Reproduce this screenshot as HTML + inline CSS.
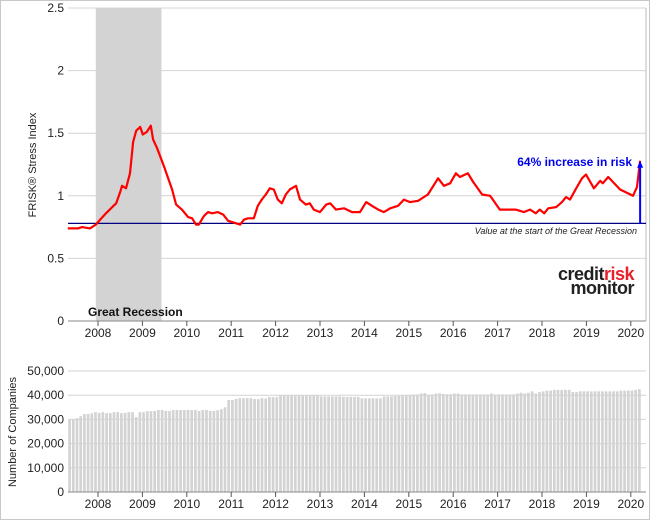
<!DOCTYPE html>
<html><head><meta charset="utf-8"><style>
body{margin:0;background:#fff;}
svg text{font-family:"Liberation Sans",sans-serif;}
</style></head><body>
<svg width="650" height="520" viewBox="0 0 650 520" xmlns="http://www.w3.org/2000/svg">
<rect x="0.5" y="0.5" width="649" height="519" fill="#fff" stroke="#c8c8c8"/>
<g id="topchart"></g>
<g id="bottomchart"></g>
</svg>
<script>
const years=[2008,2009,2010,2011,2012,2013,2014,2015,2016,2017,2018,2019,2020];
const topTicks=[0,0.5,1,1.5,2,2.5];
const topTickLabels=["0","0.5","1","1.5","2","2.5"];
const botTicks=[0,10000,20000,30000,40000,50000];
const botTickLabels=["0","10,000","20,000","30,000","40,000","50,000"];
const riskDates=[2007.32,2007.55,2007.64,2007.82,2007.95,2008.05,2008.18,2008.32,2008.41,2008.50,2008.54,2008.63,2008.72,2008.79,2008.86,2008.95,2009.01,2009.10,2009.19,2009.24,2009.33,2009.49,2009.67,2009.76,2009.89,2010.03,2010.12,2010.21,2010.27,2010.39,2010.48,2010.57,2010.70,2010.82,2010.93,2011.11,2011.20,2011.29,2011.38,2011.51,2011.60,2011.69,2011.78,2011.87,2011.96,2012.05,2012.14,2012.23,2012.32,2012.46,2012.55,2012.68,2012.77,2012.86,2013.00,2013.14,2013.23,2013.36,2013.54,2013.72,2013.90,2014.04,2014.17,2014.31,2014.44,2014.58,2014.76,2014.89,2015.03,2015.21,2015.43,2015.66,2015.79,2015.93,2016.06,2016.15,2016.33,2016.45,2016.65,2016.83,2017.05,2017.19,2017.41,2017.59,2017.73,2017.86,2017.95,2018.05,2018.14,2018.32,2018.45,2018.54,2018.63,2018.77,2018.90,2018.99,2019.17,2019.31,2019.37,2019.49,2019.76,2020.05,2020.14,2020.21];
const riskValues=[0.74,0.74,0.75,0.74,0.77,0.81,0.86,0.91,0.94,1.03,1.08,1.06,1.18,1.43,1.52,1.55,1.49,1.51,1.56,1.45,1.38,1.23,1.05,0.93,0.89,0.83,0.82,0.77,0.77,0.84,0.87,0.86,0.87,0.85,0.80,0.78,0.77,0.81,0.82,0.82,0.92,0.97,1.01,1.06,1.05,0.97,0.94,1.01,1.05,1.08,0.97,0.93,0.94,0.89,0.87,0.93,0.94,0.89,0.90,0.87,0.87,0.95,0.92,0.89,0.87,0.90,0.92,0.97,0.95,0.96,1.01,1.14,1.08,1.10,1.18,1.15,1.18,1.11,1.01,1.00,0.89,0.89,0.89,0.87,0.89,0.86,0.89,0.86,0.90,0.91,0.95,0.99,0.97,1.06,1.14,1.17,1.06,1.12,1.10,1.15,1.05,1.00,1.07,1.28];
const baseline=0.78;
const recession=[2007.95,2009.43];
const companyStart=2007.33;
const companyCounts=[30000,30000,30500,31300,32200,32300,32500,33000,
32700,33000,32600,32600,33000,33000,32600,32700,33000,33000,31000,33000,
33000,33400,33400,33500,33900,33900,33500,33500,33900,33900,33900,33900,
33900,33900,33900,33500,33900,33900,33500,33500,33800,34200,35000,38000,
38000,38500,38800,38800,38800,38800,38400,38400,38800,38600,39200,39200,
39200,39800,39900,39900,39900,39900,39900,39900,39900,39900,39900,39900,
39500,39500,39500,39500,39500,39500,39300,39300,39300,39300,39300,38700,
38700,38700,38700,38700,38700,39500,39500,39500,39700,39700,39900,39900,
40000,40300,40300,40700,40900,40200,40300,40700,40800,40500,40400,40400,
40700,40700,40300,40300,40300,40300,40300,40300,40300,40300,40700,40300,
40300,40300,40300,40300,40300,40700,41000,40700,41000,41600,40700,41300,
41600,41900,41900,42200,42200,42200,42200,42200,41300,41300,41600,41600,
41600,41600,41600,41600,41600,41600,41600,41600,41600,41900,41900,41900,
41900,42200,42500];

const NS="http://www.w3.org/2000/svg";
const L=68,R=646;
const X=y=>98+(y-2008)*44.4;
const YT=v=>321-v*125.2;
const YB=v=>492-v*(121/50000);
function mk(p,tag,at,txt){const e=document.createElementNS(NS,tag);for(const k in at)e.setAttribute(k,at[k]);if(txt!==undefined)e.textContent=txt;p.appendChild(e);return e;}
const topG=document.getElementById('topchart'),botG=document.getElementById('bottomchart');

let e=mk(topG,'rect',{x:X(recession[0]),y:8,width:X(recession[1])-X(recession[0]),height:313,fill:'#d3d3d3'});


topTicks.forEach((t,i)=>{
 if(t>0){e=mk(topG,'line',{x1:L,x2:R,y1:YT(t),y2:YT(t),stroke:'#d4d4d4'});
 
 }
 e=mk(topG,'text',{x:64,y:YT(t)+4,'text-anchor':'end','font-size':12,fill:'#222'},topTickLabels[i]);
 
 
});
mk(topG,'line',{x1:L,x2:R,y1:321,y2:321,stroke:'#888'});
mk(topG,'line',{x1:R,x2:R,y1:8,y2:321,stroke:'#bbb'});
years.forEach(y=>{
 mk(topG,'line',{x1:X(y),x2:X(y),y1:321,y2:326,stroke:'#555'});
 e=mk(topG,'text',{x:X(y),y:337,'text-anchor':'middle','font-size':12,fill:'#222'},String(y));
 
 
});
e=mk(topG,'text',{x:88,y:316,'font-size':12,'font-weight':'bold',fill:'#111'},'Great Recession');


e=mk(topG,'line',{x1:L,x2:R,y1:YT(baseline),y2:YT(baseline),stroke:'#000080','stroke-width':1.2});


e=mk(topG,'text',{x:637,y:234,'text-anchor':'end','font-size':9,'font-style':'italic',fill:'#222'},'Value at the start of the Great Recession');


const pts=riskDates.map((d,i)=>X(d).toFixed(1)+','+YT(riskValues[i]).toFixed(1)).join(' ');
e=mk(topG,'polyline',{points:pts,fill:'none',stroke:'#ff0000','stroke-width':2.2,'stroke-linejoin':'round'});


const lastX=X(riskDates[riskDates.length-1]),lastY=YT(riskValues[riskValues.length-1]);
e=mk(topG,'line',{x1:lastX,x2:lastX,y1:YT(baseline),y2:lastY+5,stroke:'#0000ff','stroke-width':2});


mk(topG,'polygon',{points:`${lastX-3},${lastY+7} ${lastX+3},${lastY+7} ${lastX},${lastY}`,fill:'#0000ff'});
e=mk(topG,'text',{x:632,y:166,'text-anchor':'end','font-size':12,'font-weight':'bold',fill:'#0000ee'},'64% increase in risk');


e=mk(topG,'text',{transform:'translate(36,165) rotate(-90)','text-anchor':'middle','font-size':11,fill:'#222'},'FRISK® Stress Index');


e=mk(topG,'text',{x:634,y:280,'text-anchor':'end','font-size':18,'font-weight':'bold','letter-spacing':'-0.5',fill:'#222'});


mk(e,'tspan',{},'credit');mk(e,'tspan',{fill:'#e8202a'},'risk');
mk(topG,'text',{x:634,y:294,'text-anchor':'end','font-size':18,'font-weight':'bold','letter-spacing':'-0.5',fill:'#222'},'monitor');

botTicks.forEach((t,i)=>{
 if(t>0){e=mk(botG,'line',{x1:L,x2:R,y1:YB(t),y2:YB(t),stroke:'#d4d4d4'});
 
 }
 e=mk(botG,'text',{x:64,y:YB(t)+4,'text-anchor':'end','font-size':12,fill:'#222'},botTickLabels[i]);
 
 
});
companyCounts.forEach((c,i)=>{
 const d=companyStart+i/12;
 e=mk(botG,'rect',{x:X(d),y:YB(c),width:2.7,height:YB(0)-YB(c),fill:'#d3d3d3'});
 
 
});
mk(botG,'line',{x1:L,x2:R,y1:492,y2:492,stroke:'#888'});
years.forEach(y=>{
 mk(botG,'line',{x1:X(y),x2:X(y),y1:492,y2:497,stroke:'#555'});
 e=mk(botG,'text',{x:X(y),y:508,'text-anchor':'middle','font-size':12,fill:'#222'},String(y));
 
 
});
e=mk(botG,'text',{transform:'translate(16,432) rotate(-90)','text-anchor':'middle','font-size':11,fill:'#222'},'Number of Companies');


</script>
</body></html>
